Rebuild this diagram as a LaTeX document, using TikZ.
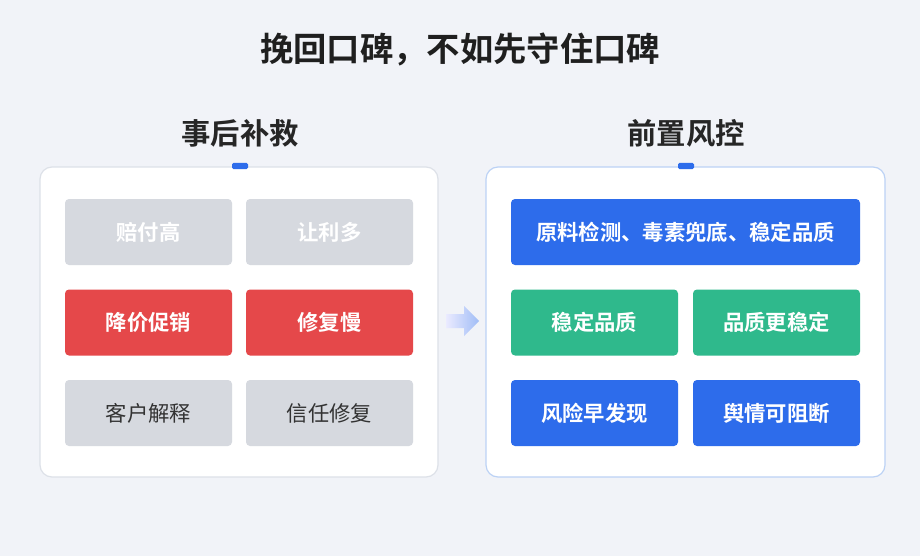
\documentclass[tikz,border=0pt]{standalone}
\usepackage{fontspec}
\newfontfamily\cjk{Noto Sans CJK SC}
\newfontfamily\cjkb{Noto Sans CJK SC Bold}
\definecolor{bg}{HTML}{F1F3F8}
\definecolor{cellgray}{HTML}{D6D9DF}
\definecolor{cellred}{HTML}{E5484A}
\definecolor{cellblue}{HTML}{2D6CEB}
\definecolor{cellgreen}{HTML}{2FB98C}
\definecolor{tabblue}{HTML}{2D6CEB}
\definecolor{panelline}{HTML}{DDE1E8}
\definecolor{panelblue}{HTML}{BCD2F5}
\tikzset{
  panel/.style={draw=#1, line width=0.9pt, fill=white, rounded corners=9pt},
  cell/.style={fill=#1, rounded corners=3pt, minimum height=66*0.75pt,
    text=white, font=\cjkb\fontsize{16}{19}\selectfont},
  half/.style={cell=#1, minimum width=167*0.75pt},
  heading/.style={font=\cjkb\fontsize{22}{26}\selectfont, text=black!85},
}
\begin{document}
\begin{tikzpicture}[x=0.75pt,y=-0.75pt]
  \fill[bg] (0,0) rectangle (920,556);
  \node[font=\cjkb\fontsize{25}{30}\selectfont, text=black!88] (title) at (460,50) {挽回口碑，不如先守住口碑};

  % panels
  \draw[panel=panelline] (40,167) rectangle (438,477);
  \draw[panel=panelblue] (486,167) rectangle (885,477);
  \node[heading] (left) at (240,133) {事后补救};
  \node[heading] (right) at (686,133) {前置风控};
  \fill[tabblue, rounded corners=1pt] (232,163) rectangle (248,169);
  \fill[tabblue, rounded corners=1pt] (678,163) rectangle (694,169);

  % left cells
  \node[half=cellgray] (a1) at (148.5,232) {赔付高};
  \node[half=cellgray] (a2) at (329.5,232) {让利多};
  \node[half=cellred] (b1) at (148.5,322.5) {降价促销};
  \node[half=cellred] (b2) at (329.5,322.5) {修复慢};
  \node[half=cellgray, text=black!80, font=\cjk\fontsize{16}{19}\selectfont] (c1) at (148.5,413) {客户解释};
  \node[half=cellgray, text=black!80, font=\cjk\fontsize{16}{19}\selectfont] (c2) at (329.5,413) {信任修复};

  % right cells
  \node[cell=cellblue, minimum width=349*0.75pt] (d1) at (685.5,232) {原料检测、毒素兜底、稳定品质};
  \node[half=cellgreen] (e1) at (594.5,322.5) {稳定品质};
  \node[half=cellgreen] (e2) at (776.5,322.5) {品质更稳定};
  \node[half=cellblue] (f1) at (594.5,413) {风险早发现};
  \node[half=cellblue] (f2) at (776.5,413) {舆情可阻断};

  % arrow
  \shade[left color=blue!8, right color=cellblue!45]
    (446,314) -- (464,314) -- (464,306) -- (479,321) -- (464,336) -- (464,328) -- (446,328) -- cycle;
\end{tikzpicture}
\end{document}
